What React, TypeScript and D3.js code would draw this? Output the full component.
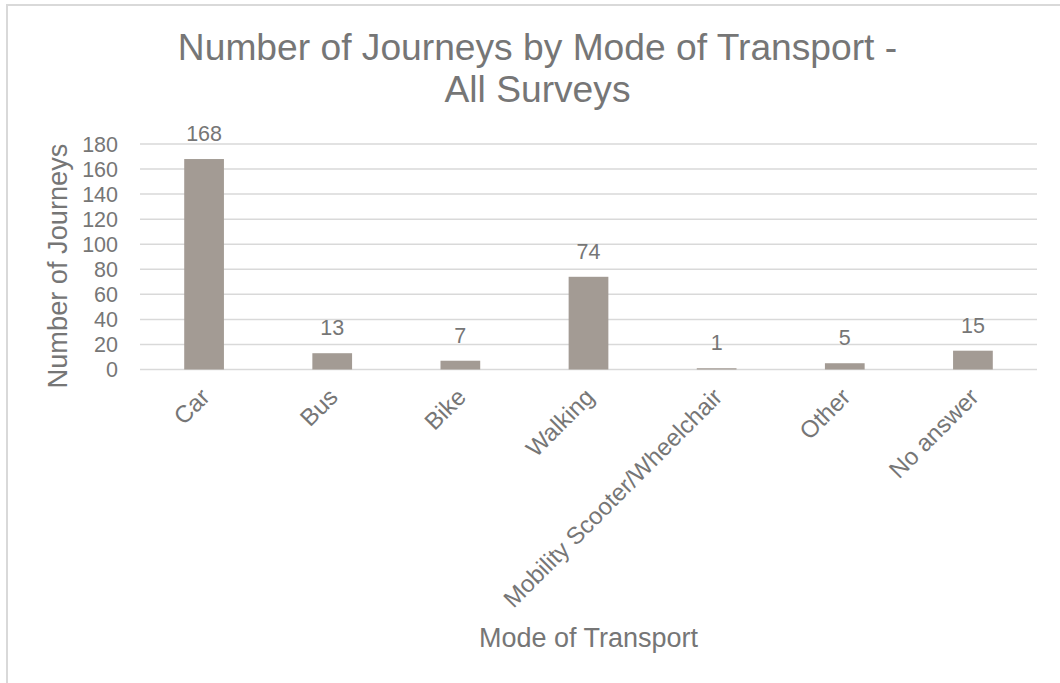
import React from "react";
import * as d3 from "d3";

const categories = ["Car", "Bus", "Bike", "Walking", "Mobility Scooter/Wheelchair", "Other", "No answer"];
const journeys = [168, 13, 7, 74, 1, 5, 15];
const yTicks = [0, 20, 40, 60, 80, 100, 120, 140, 160, 180];
const titleLines = ["Number of Journeys by Mode of Transport -", "All Surveys"];
const xTitle = "Mode of Transport";
const yTitle = "Number of Journeys";

const W = 1060;
const H = 683;
const FONT = "'Liberation Sans', Arial, sans-serif";
const TEXT = "#767676";
const GRID = "#d9d9d9";
const BAR = "#a39b94";

export default function App() {
  const left = 140, right = 1037, top = 144, bottom = 369.5;
  const x = d3.scaleBand<string>().domain(categories).range([left, right]).paddingInner(0.69).paddingOuter(0.345);
  const y = d3.scaleLinear().domain([0, 180]).range([bottom, top]);
  const cx = (c: string) => (x(c) as number) + x.bandwidth() / 2;

  return (
    <svg width={W} height={H} style={{ position: "absolute", left: 0, top: 0, background: "#fff" }} fontFamily={FONT}>
      <rect x={0} y={0} width={W} height={H} fill="#fff" />
      <rect x={7} y={5} width={1200} height={900} fill="none" stroke={GRID} strokeWidth={2} />
      {titleLines.map((t, i) => (
        <text key={t} x={537.5} y={59.5 + i * 42} textAnchor="middle" fontSize={37.2} fill={TEXT}>{t}</text>
      ))}
      {yTicks.map((t) => (
        <g key={t}>
          <line x1={left} x2={right} y1={y(t)} y2={y(t)} stroke={GRID} strokeWidth={1.5} />
          <text x={118} y={y(t)} dy="0.36em" textAnchor="end" fontSize={21.5} fill={TEXT}>{t}</text>
        </g>
      ))}
      {categories.map((c, i) => (
        <g key={c}>
          <rect x={x(c)} y={y(journeys[i])} width={x.bandwidth()} height={bottom - y(journeys[i])} fill={BAR} />
          <text x={cx(c)} y={y(journeys[i]) - 18} textAnchor="middle" fontSize={21.5} fill={TEXT}>{journeys[i]}</text>
          <text
            transform={`translate(${cx(c) + 1},${bottom + 23}) rotate(-45)`}
            textAnchor="end"
            dy="0.36em"
            fontSize={24}
            fill={TEXT}
          >{c}</text>
        </g>
      ))}
      <text x={(left + right) / 2} y={647} textAnchor="middle" fontSize={27} fill={TEXT}>{xTitle}</text>
      <text transform={`translate(66.5,266) rotate(-90)`} textAnchor="middle" fontSize={27.2} fill={TEXT}>{yTitle}</text>
    </svg>
  );
}
